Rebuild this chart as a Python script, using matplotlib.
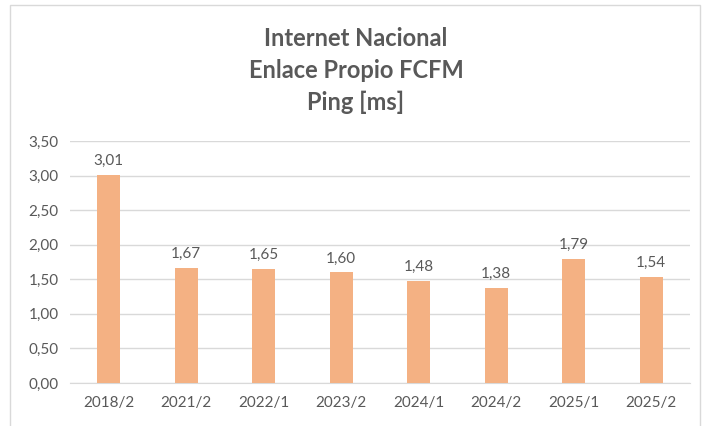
import matplotlib.pyplot as plt
from matplotlib.patches import Rectangle

# Datos
periodos = ["2018/2", "2021/2", "2022/1", "2023/2", "2024/1", "2024/2", "2025/1", "2025/2"]
ping_ms = [3.01, 1.67, 1.65, 1.60, 1.48, 1.38, 1.79, 1.54]
yticks = [0.0, 0.5, 1.0, 1.5, 2.0, 2.5, 3.0, 3.5]

plt.rcParams['font.family'] = ['Lato', 'DejaVu Sans']
gris = '#595959'

fig = plt.figure(figsize=(7.05, 4.26), dpi=100)
ax = fig.add_axes([70 / 705, 1 - 383 / 426, 620 / 705, (383 - 141) / 426])

# Marco del gráfico
fig.patches.append(Rectangle((10 / 705, -0.05), 690 / 705, 1.05 - 5 / 426,
                             transform=fig.transFigure, fill=False,
                             edgecolor='#D9D9D9', linewidth=1))

x = range(len(periodos))
bars = ax.bar(x, ping_ms, width=0.30, color='#F4B183', zorder=3)

for bar, v in zip(bars, ping_ms):
    ax.text(bar.get_x() + bar.get_width() / 2, v + 0.1, f'{v:.2f}'.replace('.', ','),
            ha='center', va='bottom', fontsize=11, color=gris)

ax.set_xlim(-0.5, len(periodos) - 0.5)
ax.set_ylim(0, 3.5)
ax.set_yticks(yticks)
ax.set_yticklabels([f'{t:.2f}'.replace('.', ',') for t in yticks])
ax.set_xticks(list(x))
ax.set_xticklabels(periodos)
ax.tick_params(axis='both', length=0, labelsize=11, colors=gris)
ax.tick_params(axis='x', pad=9)
ax.tick_params(axis='y', pad=8)
ax.grid(axis='y', color='#D9D9D9', linewidth=1, zorder=0)
for s in ['top', 'right', 'left']:
    ax.spines[s].set_visible(False)
ax.spines['bottom'].set_color('#D9D9D9')

fig.text(0.505, 1 - 38 / 426, 'Internet Nacional', ha='center', va='center',
         fontsize=17, fontweight='bold', color=gris)
fig.text(0.505, 1 - 71 / 426, 'Enlace Propio FCFM', ha='center', va='center',
         fontsize=17, fontweight='bold', color=gris)
fig.text(0.505, 1 - 102 / 426, 'Ping [ms]', ha='center', va='center',
         fontsize=17, fontweight='bold', color=gris)

fig.savefig('out.png', dpi=100)
